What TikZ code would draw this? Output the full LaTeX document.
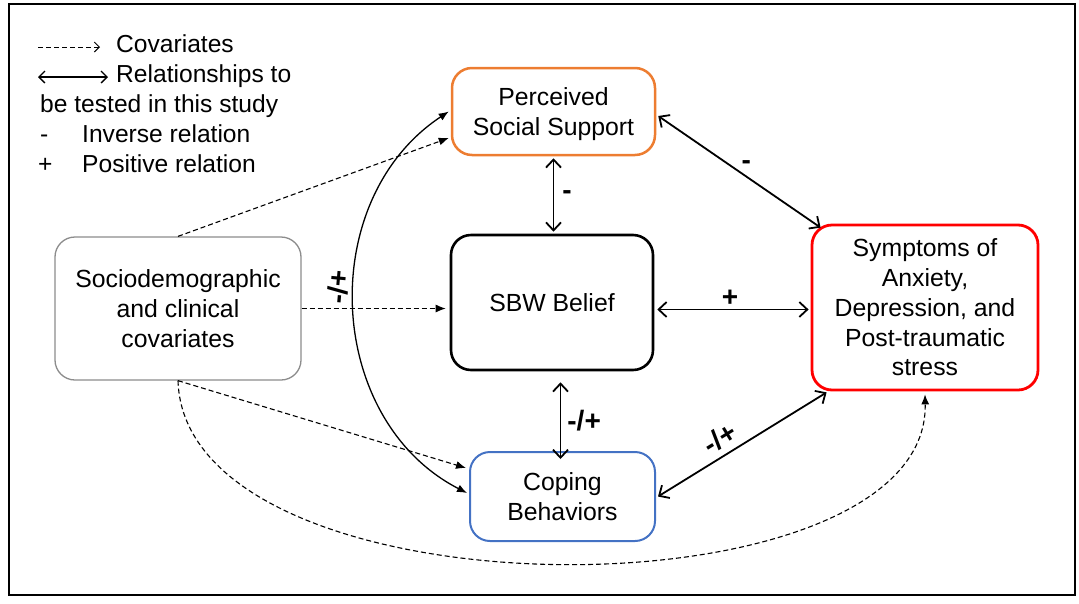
\documentclass[tikz,border=0pt]{standalone}
\usepackage{fontspec}
\setmainfont{Liberation Sans}
\usetikzlibrary{arrows.meta,calc,positioning}
\definecolor{orng}{HTML}{ED7D31}
\definecolor{blu}{HTML}{4472C4}
\definecolor{gry}{HTML}{8C8C8C}
\begin{document}
\begin{tikzpicture}[x=1pt,y=-1pt,
  box/.style={draw, rounded corners=20pt, align=center, inner sep=0pt, font=\fontsize{24.8}{29.8}\selectfont},
  cov/.style={line width=1.1pt, dash pattern=on 5pt off 3pt, -{Latex[length=10pt,width=8pt]}},
  rel/.style={line width=1.8pt, {Straight Barb[length=8pt,width=15pt]}-{Straight Barb[length=8pt,width=15pt]}},
  arcl/.style={line width=1.3pt, {Latex[length=10pt,width=8pt]}-{Latex[length=10pt,width=8pt]}},
  lbl/.style={font=\fontsize{28}{28}\selectfont\bfseries, inner sep=0pt},
  leg/.style={font=\fontsize{24.6}{24.6}\selectfont, inner sep=0pt, anchor=base west}]
\useasboundingbox (0,0) rectangle (1079,603);
\draw[line width=2pt] (9,4) rectangle (1075,595);

% legend
\coordinate (l1a) at (38,47); \coordinate (l1b) at (100,47);
\coordinate (l2a) at (38,77); \coordinate (l2b) at (108,77);
\draw[line width=1pt, dash pattern=on 5pt off 3pt, -{Straight Barb[length=5pt,width=10pt]}] (l1a) -- (l1b);
\draw[line width=1.3pt, {Straight Barb[length=6pt,width=12pt]}-{Straight Barb[length=6pt,width=12pt]}] (l2a) -- (l2b);
\node[leg] (t1) at (116,52) {Covariates};
\node[leg] (t2) at (116,82) {Relationships to};
\node[leg] (t3) at (40,112) {be tested in this study};
\node[leg] (t4) at (40,142) {-};
\node[leg] (t5) at (82,142) {Inverse relation};
\node[leg] (t6) at (38,172) {+};
\node[leg] (t7) at (82,172) {Positive relation};

% nodes
\node[box, draw=gry, line width=1.3pt, minimum width=246pt, minimum height=143pt] (socio) at (178,308.5) {Sociodemographic\\and clinical\\covariates};
\node[box, draw=orng, line width=2.5pt, minimum width=203pt, minimum height=87pt] (pss) at (553.5,111.5) {\rule{0pt}{23pt}Perceived\\Social Support};
\node[box, draw=black, line width=2.6pt, minimum width=202pt, minimum height=135pt] (sbw) at (552,302.5) {SBW Belief};
\node[box, draw=red, line width=2.8pt, minimum width=226pt, minimum height=165pt] (sym) at (925,307.5) {Symptoms of\\Anxiety,\\Depression, and\\Post-traumatic\\stress};
\node[box, draw=blu, line width=2pt, minimum width=185pt, minimum height=89pt] (cope) at (562.5,496.5) {Coping\\Behaviors};

% covariate arrows
\draw[cov] (socio.north) -- ([xshift=-2pt,yshift=-26.5pt]pss.west);
\draw[cov] (socio.east) -- ([xshift=-4pt]socio.east -| sbw.west);
\draw[cov] (socio.south) -- ([xshift=-3pt,yshift=28.5pt]cope.west);
\draw[cov] (socio.south) .. controls (185,622) and (930,622) .. ([yshift=-3pt]sym.south);
\node[lbl, rotate=85] (l0) at (338,287) {-/+};

% solid arc
\coordinate (ce) at ([xshift=-2pt,yshift=3.5pt]cope.west);
\coordinate (pe) at ([xshift=-2pt]pss.west);
\draw[arcl] (pe) .. controls (315,200) and (325,420) .. (ce);

% relationships
\draw[rel] ([yshift=-2pt]pss.south) -- ([yshift=2pt]pss.south |- sbw.north) node[lbl, midway, right=8pt] (la) {-};
\draw[rel] ([xshift=2pt,yshift=-4.5pt]pss.east) -- ([xshift=10pt,yshift=-4pt]sym.north west) node[lbl, pos=0.5, above right=2pt] (lb) {-};
\draw[rel] ([xshift=3pt,yshift=-2pt]sbw.east |- sym.west) -- ([xshift=-2pt,yshift=-2pt]sym.west) node[lbl, pos=0.48, above=2pt] (lc) {+};
\draw[rel] ([xshift=-2pt,yshift=-11pt]cope.north |- sbw.south) -- ([xshift=-2pt,yshift=-8pt]cope.north) node[lbl, midway, right=6pt] (ld) {-/+};
\draw[rel] ([xshift=2pt]cope.east) -- ([xshift=16pt,yshift=-1pt]sym.south west) node[lbl, pos=0.42, sloped, above=6pt] (le) {-/+};
\end{tikzpicture}
\end{document}
